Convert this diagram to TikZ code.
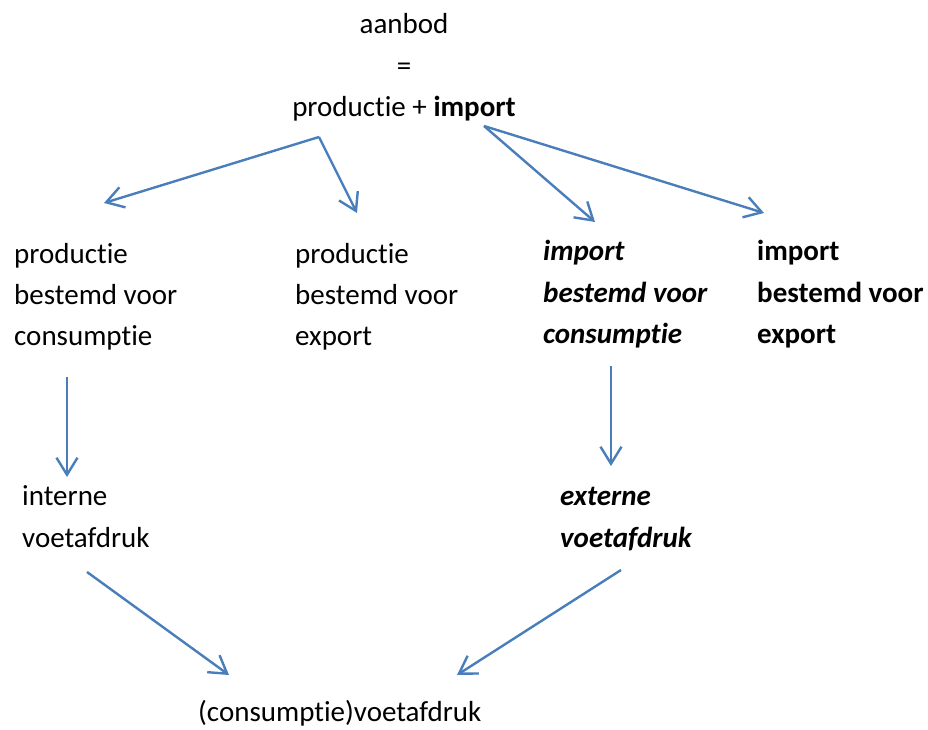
\documentclass[tikz,border=0pt]{standalone}
\usepackage{fontspec}
\setmainfont{Carlito}[Ligatures=NoCommon]
\usetikzlibrary{arrows.meta}
\definecolor{pijlblauw}{HTML}{4A7EBB}

\begin{document}
\begin{tikzpicture}[x=1pt, y=1pt, >={Straight Barb[length=17pt, width=21pt]},
    pijl/.style={->, draw=pijlblauw, line width=2.4pt},
    tekst/.style={inner sep=0pt, anchor=base west, align=left,
        font=\fontsize{29}{41.5}\selectfont}]
    \useasboundingbox (0,0) rectangle (928,729);

    % Text blocks (base = baseline of the last line)
    \node[tekst, anchor=base, align=center] (aanbod) at (404,612)
        {aanbod\\=\\productie + \textbf{import}};
    \node[tekst] (pc) at (14,383) {productie\\bestemd voor\\consumptie};
    \node[tekst] (pe) at (295,383) {productie\\bestemd voor\\export};
    \node[tekst] (ic) at (543,385) {\textbf{\textit{import}}\\\textbf{\textit{bestemd voor}}\\\textbf{\textit{consumptie}}};
    \node[tekst] (ie) at (757,385) {\textbf{import}\\\textbf{bestemd voor}\\\textbf{export}};
    \node[tekst] (intern) at (22,182) {interne\\voetafdruk};
    \node[tekst] (extern) at (560,182) {\textbf{\textit{externe}}\\\textbf{\textit{voetafdruk}}};
    \node[tekst] (totaal) at (198,8) {(consumptie)voetafdruk};

    % Arrow ends
    \coordinate (prod) at (319,592);
    \coordinate (imp) at (484,603);
    \coordinate (pc-in) at (104,526);
    \coordinate (pe-in) at (357,516);
    \coordinate (ic-in) at (595,507);
    \coordinate (ie-in) at (764,516);
    \coordinate (pc-uit) at (67,352);
    \coordinate (intern-in) at (67,252);
    \coordinate (ic-uit) at (611,363);
    \coordinate (extern-in) at (611,263);
    \coordinate (intern-uit) at (87,157);
    \coordinate (extern-uit) at (621,159);
    \coordinate (totaal-l) at (229,54);
    \coordinate (totaal-r) at (457,54);

    \draw[pijl] (prod) -- (pc-in);
    \draw[pijl] (prod) -- (pe-in);
    \draw[pijl] (imp) -- (ic-in);
    \draw[pijl] (imp) -- (ie-in);
    \draw[pijl] (pc-uit) -- (intern-in);
    \draw[pijl] (ic-uit) -- (extern-in);
    \draw[pijl] (intern-uit) -- (totaal-l);
    \draw[pijl] (extern-uit) -- (totaal-r);
\end{tikzpicture}
\end{document}
